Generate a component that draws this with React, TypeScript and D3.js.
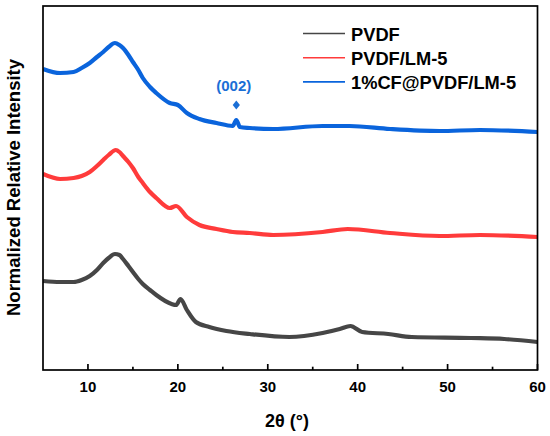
import React from "react";
import * as d3 from "d3";

// 2θ positions (degrees), with intensity (a.u., offset stacked)
const pvdfX = [5, 6.9, 8.4, 9.3, 10.2, 11.0, 11.7, 12.3, 13.0, 13.5, 13.9, 14.5, 15.0, 15.6, 16.1, 16.9, 17.6, 19.3, 19.8, 20.3, 21.0, 22.0, 23.5, 25.4, 28, 32.4, 36.1, 38.0, 39.2, 40.5, 43.4, 46, 52.6, 56.3, 60];
const pvdfY = [89, 88, 88, 90, 94, 100, 107, 112, 116, 115, 111, 104, 98, 91, 86, 80, 75, 66, 65, 71, 60, 48, 43, 39, 36, 33, 37, 41, 44, 38, 36, 33, 32, 31, 28];

const lmX = [5, 6.9, 8.4, 9.3, 10.2, 11.0, 11.7, 12.3, 13.1, 13.5, 13.9, 14.5, 15.0, 15.6, 16.1, 16.9, 17.6, 19.1, 19.8, 21.0, 22.4, 24.3, 26.1, 28, 30.6, 36.1, 38.9, 43.6, 49.1, 53.6, 60];
const lmY = [196, 191, 192, 194, 198, 204, 210, 215, 220, 218, 214, 208, 202, 193, 187, 178, 172, 162, 164, 153, 145, 141, 138, 137, 135, 138, 141, 137, 134, 135, 133];

const cfX = [5, 6.9, 8.4, 9.3, 10.2, 11.0, 11.7, 12.3, 13.0, 13.5, 13.9, 14.5, 15.0, 15.6, 16.1, 16.9, 17.6, 19.1, 20.0, 21.0, 22.4, 24.3, 26.1, 26.5, 26.9, 28, 30.6, 36.1, 39.1, 43.6, 49.1, 53.6, 60];
const cfY = [301, 297, 298, 302, 307, 313, 318, 323, 327, 325, 322, 315, 308, 300, 292, 283, 277, 267, 265, 257, 251, 247, 244, 250, 243, 242, 241, 244, 244, 241, 239, 240, 238];

const seriesNames = ["PVDF", "PVDF/LM-5", "1%CF@PVDF/LM-5"];
const seriesColors = ["#464646", "#ff3b3b", "#0a64dc"];
const xTicks = [10, 20, 30, 40, 50, 60];
const minorTicks = [15, 25, 35, 45, 55];

const peakLabel = "(002)";
const peakX = 26.5;

export default function App() {
  const W = 550, H = 436;
  const m = { left: 43, top: 6, right: 537.5, bottom: 370 };

  const x = d3.scaleLinear().domain([5, 60]).range([m.left, m.right]);
  const y = d3.scaleLinear().domain([0, 364]).range([m.bottom, m.top]);

  const line = d3
    .line<[number, number]>()
    .x((d) => x(d[0]))
    .y((d) => y(d[1]))
    .curve(d3.curveMonotoneX);

  const series = [
    d3.zip(pvdfX, pvdfY) as [number, number][],
    d3.zip(lmX, lmY) as [number, number][],
    d3.zip(cfX, cfY) as [number, number][],
  ];

  const font = "Arial, 'Liberation Sans', sans-serif";
  const dx = x(peakX);
  const dy = 105;

  return (
    <svg
      width={W}
      height={H}
      style={{ position: "absolute", left: 0, top: 0, background: "#fff" }}
      fontFamily={font}
    >
      <g clipPath="url(#plot)">
        <defs>
          <clipPath id="plot">
            <rect x={m.left} y={m.top} width={m.right - m.left} height={m.bottom - m.top} />
          </clipPath>
        </defs>
        {series.map((s, i) => (
          <path
            key={i}
            d={line(s) ?? ""}
            fill="none"
            stroke={seriesColors[i]}
            strokeWidth={4.2}
            strokeLinejoin="round"
          />
        ))}
      </g>

      {/* frame */}
      <rect
        x={m.left}
        y={m.top}
        width={m.right - m.left}
        height={m.bottom - m.top}
        fill="none"
        stroke="#000"
        strokeWidth={1.7}
      />

      {/* bottom ticks, inward */}
      {xTicks.map((t) => (
        <g key={t}>
          <line x1={x(t)} x2={x(t)} y1={m.bottom} y2={m.bottom - 6} stroke="#000" strokeWidth={1.7} />
          <text x={x(t)} y={391.5} textAnchor="middle" fontSize={15} fontWeight="bold" fill="#000">
            {t}
          </text>
        </g>
      ))}
      {minorTicks.map((t) => (
        <line key={t} x1={x(t)} x2={x(t)} y1={m.bottom} y2={m.bottom - 3.3} stroke="#000" strokeWidth={1.7} />
      ))}

      <text x={287} y={426.5} textAnchor="middle" fontSize={18} fontWeight="bold" fill="#000">
        2θ (°)
      </text>
      <text
        transform="translate(20,187.5) rotate(-90)"
        textAnchor="middle"
        fontSize={18.5}
        fontWeight="bold"
        fill="#000"
      >
        Normalized Relative Intensity
      </text>

      {/* legend */}
      {seriesNames.map((n, i) => (
        <g key={n}>
          <line x1={303} x2={345} y1={33.5 + i * 24.2} y2={33.5 + i * 24.2} stroke={seriesColors[i]} strokeWidth={1.6} />
          <text x={351} y={40.5 + i * 24} fontSize={18.3} fontWeight="bold" fill="#000">
            {n}
          </text>
        </g>
      ))}

      {/* (002) annotation */}
      <text x={dx - 2.5} y={90.5} textAnchor="middle" fontSize={15} fontWeight="bold" fill="#1a6fd6">
        {peakLabel}
      </text>
      <path
        d={`M${dx},${dy - 4.5}L${dx + 3.6},${dy}L${dx},${dy + 4.5}L${dx - 3.6},${dy}Z`}
        fill="#1a6fd6"
      />
    </svg>
  );
}
